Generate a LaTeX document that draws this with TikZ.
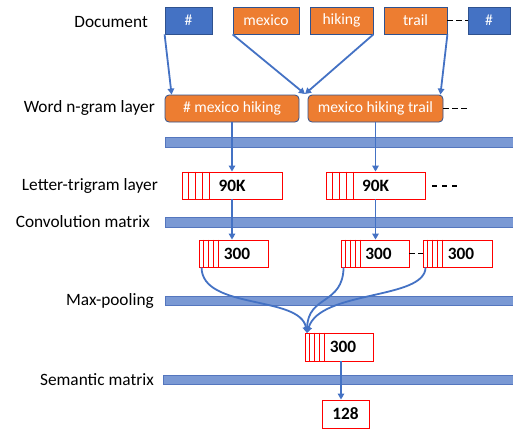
\documentclass[tikz,border=0pt]{standalone}
\usepackage{fontspec}
\setmainfont{Carlito}
\usetikzlibrary{arrows.meta}
\definecolor{pblue}{RGB}{68,114,196}
\definecolor{pborder}{RGB}{47,82,143}
\definecolor{porange}{RGB}{237,125,49}
\definecolor{barfill}{RGB}{122,153,212}
\definecolor{barline}{RGB}{84,118,190}
\tikzset{
  lbl/.style={anchor=east, font=\fontsize{17.3}{20}\selectfont, inner sep=0pt},
  bluebox/.style={draw=pborder, fill=pblue, line width=0.8pt, text=white, font=\fontsize{15.6}{18}\selectfont, inner sep=0pt},
  orbox/.style={draw=pborder, fill=porange, line width=0.8pt, text=white, font=\fontsize{15.6}{18}\selectfont, inner sep=0pt},
  ngbox/.style={orbox, rounded corners=4pt},
  redbox/.style={draw=red, fill=white, line width=0.9pt, font=\bfseries\fontsize{17.3}{20}\selectfont, inner sep=0pt},
  bar/.style={draw=barline, fill=barfill, line width=0.6pt},
  conn/.style={draw=pblue, line width=1.8pt, -{Triangle[length=6pt,width=6.5pt]}},
  dots/.style={draw=black, line width=1.2pt, dash pattern=on 5.5pt off 3.5pt},
  widedots/.style={draw=black, line width=1.2pt, dash pattern=on 5pt off 5pt},
  stripe/.style={draw=red, line width=0.9pt}
}
\begin{document}
\begin{tikzpicture}[x=1pt, y=-1pt]
\useasboundingbox (0,0) rectangle (513,429);
% labels
\node[lbl] (lDoc) at (148,22) {Document};
\node[lbl] (lNg) at (155,108) {Word n-gram layer};
\node[lbl] (lLt) at (158,186) {Letter-trigram layer};
\node[lbl] (lCv) at (150,222) {Convolution matrix};
\node[lbl] (lMp) at (154,301) {Max-pooling};
\node[lbl] (lSm) at (154,380) {Semantic matrix};
% bars
\draw[bar] (165,137) rectangle (514,147);
\draw[bar] (165,217) rectangle (514,227);
\draw[bar] (165,296) rectangle (514,305);
\draw[bar] (163,375) rectangle (514,384);
% document words
\node[bluebox, minimum width=47pt, minimum height=27pt] (h1) at (188.5,20.5) {\#};
\node[orbox, minimum width=66pt, minimum height=27pt] (m) at (266,20.5) {mexico};
\node[orbox, minimum width=63pt, minimum height=27pt] (hk) at (341.5,20.5) {hiking};
\node[orbox, minimum width=63pt, minimum height=27pt] (t) at (415.5,20.5) {trail};
\node[bluebox, minimum width=42pt, minimum height=27pt] (h2) at (489,20.5) {\#};
\draw[dots] (t.east) -- (h2.west);
% n-gram
\node[ngbox, minimum width=134pt, minimum height=27pt] (ng1) at (232,108.5) {\# mexico hiking};
\node[ngbox, minimum width=135pt, minimum height=27pt] (ng2) at (375.5,108.5) {mexico hiking trail};
\coordinate (ngd) at (468,108.5);
\draw[dots] (ng2.east) -- (ngd);
\coordinate (conv) at (305,94);
\draw[conn] (h1.south west) -- ([xshift=7pt]ng1.north west);
\draw[conn] (m.south west) -- (conv);
\draw[conn] (hk.south east) -- (conv);
\draw[conn] (t.south east) -- ([xshift=-3pt]ng2.north east);
% letter trigram
\node[redbox, minimum width=100pt, minimum height=27pt] (k1) at (232,185.5) {90K};
\node[redbox, minimum width=99pt, minimum height=27pt] (k2) at (375.5,185.5) {90K};
\foreach \n in {k1,k2}{\foreach \d in {7,14,21,28}{\draw[stripe] ([xshift=\d pt]\n.north west) -- ([xshift=\d pt]\n.south west);}}
\coordinate (kd1) at (432,186);
\coordinate (kd2) at (457,186);
\draw[widedots] (kd1) -- (kd2);
\draw[conn] (ng1.south) -- (k1.north);
\draw[conn] (ng2.south) -- (k2.north);
% convolution outputs
\node[redbox, minimum width=69pt, minimum height=27pt] (c1) at (233.5,253.5) {\hspace*{7pt}300};
\node[redbox, minimum width=68pt, minimum height=27pt] (c2) at (375,253.5) {\hspace*{7pt}300};
\node[redbox, minimum width=69pt, minimum height=27pt] (c3) at (457.5,253.5) {\hspace*{7pt}300};
\foreach \n in {c1,c2,c3}{\foreach \d in {5,10,15,20}{\draw[stripe] ([xshift=\d pt]\n.north west) -- ([xshift=\d pt]\n.south west);}}
\draw[dots] (c2.east) -- (c3.west);
\draw[conn] (k1.south) -- (k1.south |- c1.north);
\draw[conn] (k2.south) -- (k2.south |- c2.north);
% max pooling
\node[redbox, minimum width=68pt, minimum height=28pt] (p) at (339,347) {\hspace*{8pt}300};
\foreach \d in {5,10,15,20}{\draw[stripe] ([xshift=\d pt]p.north west) -- ([xshift=\d pt]p.south west);}
\coordinate (pin) at (307,333);
\draw[conn] ([xshift=3pt]c1.south west) .. controls (202,310) and (300,295) .. (pin);
\draw[conn] ([xshift=3pt]c2.south west) .. controls (343,305) and (308,295) .. (pin);
\draw[conn] ([xshift=3pt]c3.south west) .. controls (425,300) and (320,290) .. (pin);
% semantic
\node[redbox, minimum width=47pt, minimum height=28pt] (e) at (345.5,414) {128};
\draw[conn] ([xshift=2pt]p.south) -- ([xshift=2pt]p.south |- e.north);
\end{tikzpicture}
\end{document}
